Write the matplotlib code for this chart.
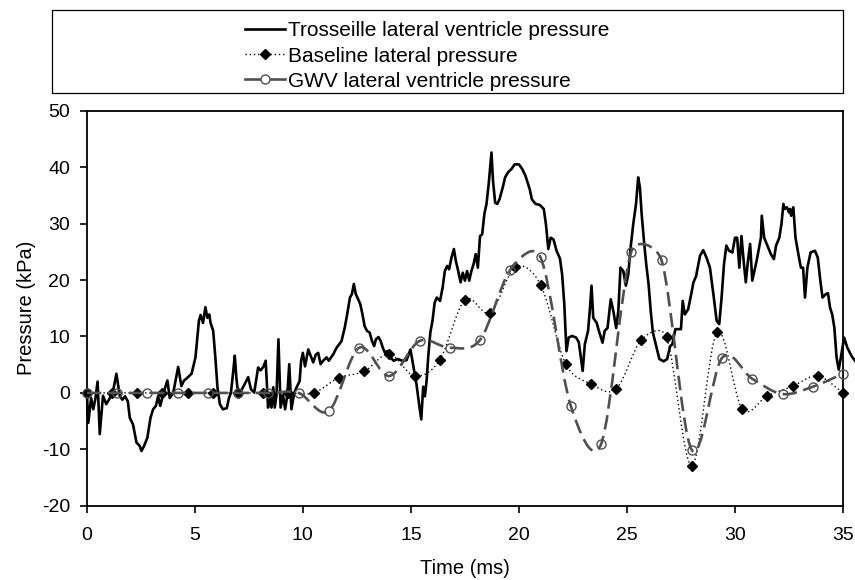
import matplotlib

matplotlib.use("Agg")
import matplotlib.pyplot as plt
import numpy as np
from matplotlib.lines import Line2D
from matplotlib.patches import PathPatch, Rectangle
from matplotlib.path import Path

plt.rcParams["font.family"] = ["Liberation Sans", "DejaVu Sans"]
plt.rcParams["axes.unicode_minus"] = False

# Trosseille: señal medida, densa
tro_time = [
    0.0, 0.07, 0.2, 0.3, 0.4, 0.5, 0.6, 0.75, 0.9, 1.07, 1.2, 1.37, 1.53, 1.65, 1.77,
    1.9, 1.99, 2.14, 2.3, 2.45, 2.53, 2.65, 2.8, 2.95, 3.07, 3.2, 3.3, 3.4, 3.55, 3.73,
    3.84, 4.0, 4.23, 4.38, 4.5, 4.6, 4.85, 5.03, 5.19, 5.27, 5.38, 5.49, 5.58, 5.67,
    5.73, 5.85, 5.95, 6.05, 6.16, 6.3, 6.48, 6.58, 6.67, 6.78, 6.85, 6.92, 7.0,
    7.15, 7.3, 7.47, 7.6, 7.75, 7.93, 8.04, 8.17, 8.28, 8.39, 8.47, 8.55, 8.63, 8.7,
    8.78, 8.87, 8.97, 9.08, 9.18, 9.28, 9.37, 9.47, 9.6, 9.7, 9.85, 9.92, 10.0, 10.1,
    10.25, 10.37, 10.48, 10.6, 10.71, 10.82, 10.94, 11.1, 11.2, 11.4, 11.56, 11.68,
    11.79, 11.94, 12.05, 12.18, 12.27, 12.36, 12.45, 12.56, 12.66, 12.76, 12.86, 12.97,
    13.09, 13.2, 13.3, 13.38, 13.5, 13.6, 13.7, 13.8, 13.9, 14.0,
    14.2, 14.4, 14.6, 14.8, 14.98, 15.1, 15.26, 15.39, 15.48, 15.57, 15.65, 15.73,
    15.8, 15.9, 16.0, 16.1, 16.2, 16.35, 16.47, 16.57, 16.68, 16.77, 16.88, 16.99,
    17.08, 17.19, 17.3, 17.4, 17.5, 17.6, 17.7, 17.8, 17.9, 18.0, 18.1, 18.2, 18.3,
    18.4, 18.5, 18.6, 18.73, 18.8, 18.9, 19.0, 19.1, 19.25, 19.36, 19.5, 19.66, 19.8,
    20.0, 20.15, 20.3, 20.5, 20.6, 20.77, 20.97, 21.15, 21.25, 21.36, 21.47, 21.6,
    21.74, 21.9, 22.0, 22.1, 22.2, 22.3, 22.46, 22.65, 22.77,
    22.95, 23.05, 23.2, 23.29, 23.36, 23.44, 23.6, 23.7, 23.87, 23.97, 24.1, 24.25,
    24.37, 24.5, 24.6, 24.7, 24.83, 24.95, 25.06, 25.17, 25.29, 25.42, 25.52, 25.6,
    25.68, 25.8, 25.9, 26.0, 26.1, 26.2, 26.37, 26.5, 26.7, 26.86, 27.0, 27.1, 27.24,
    27.5, 27.58, 27.68, 27.83,
    28.0, 28.07, 28.2, 28.38, 28.53, 28.68, 28.84, 29.0, 29.15, 29.27, 29.38, 29.49,
    29.6, 29.72, 29.88, 30.0, 30.1, 30.2, 30.3, 30.4, 30.5, 30.6, 30.7, 30.8, 31.0,
    31.2, 31.24, 31.35, 31.5, 31.66, 31.8, 31.9, 32.05, 32.15, 32.24, 32.3, 32.4, 32.5,
    32.55, 32.6, 32.7, 32.8, 32.96, 33.05, 33.15, 33.24, 33.35, 33.5, 33.7, 33.83,
    33.95, 34.05, 34.2, 34.3, 34.4, 34.5, 34.6, 34.7, 34.8, 34.9, 35.05, 35.2, 35.4,
    35.55,
]
tro_pressure = [
    0.3, -5.3, -0.9, -2.9, -1.0, 2.0, -7.3, -0.5, -2.0, -0.9, 0.0, 3.4, -0.6, -1.2, -0.6,
    -1.5, -4.4, -5.6, -8.8, -9.4, -10.3, -9.4, -8.0, -4.4, -2.9, -2.3, -0.6, -2.3, 0.0, 2.2,
    -0.9, 0.0, 4.6, 1.2, 2.2, 2.5, 3.4, 6.3, 12.8, 13.8, 12.4, 15.2, 13.3, 13.9,
    12.4, 11.0, 6.3, 0.9, -2.0, -2.9, -2.7, -0.9, 0.0, 3.9, 6.6, 2.8, 0.0,
    0.4, 1.5, 2.8, 0.6, 0.1, 4.5, 4.0, 4.6, 5.7, -2.6, 0.0, -2.6, 1.0, -2.6,
    -0.4, 9.5, -2.6, -0.4, -2.9, -0.4, 5.1, -2.9, 0.0, 0.9, 2.1, 5.7, 7.1, 4.7,
    7.7, 6.5, 5.4, 6.8, 7.1, 5.1, 5.7, 6.3, 5.7, 6.8, 8.0, 8.6,
    9.2, 11.6, 13.9, 16.9, 17.5, 19.3, 17.5, 16.6, 15.7, 13.9, 11.8, 11.0,
    10.7, 9.2, 8.3, 9.5, 9.9, 9.2, 8.0, 7.1, 7.4, 6.5,
    5.7, 6.0, 5.7, 5.8, 7.7, 5.0, 1.5, -2.3, -4.7, 1.1, -0.6, 2.3,
    6.3, 10.7, 12.8, 16.0, 16.9, 16.3, 18.7, 21.6, 22.5, 21.9, 24.0, 25.5,
    23.4, 21.6, 19.6, 21.3, 19.9, 21.6, 19.9, 21.6, 22.8, 24.6, 22.2, 27.8, 28.1,
    31.7, 33.5, 37.0, 42.6, 37.6, 33.7, 33.5, 34.3, 36.4, 38.2, 39.1, 39.7, 40.5,
    40.5, 39.7, 38.5, 36.1, 34.3, 33.5, 33.3, 32.6, 29.9, 25.5, 27.5, 27.2,
    25.2, 23.8, 21.0, 15.7, 7.4, 9.8, 10.1, 9.8, 9.0,
    3.9, 8.6, 11.0, 15.1, 19.0, 13.3, 12.4, 11.0, 8.9, 11.0, 11.5, 16.6,
    14.5, 11.5, 14.5, 22.2, 21.6, 19.0, 21.0, 25.8, 29.9, 33.5, 38.2, 36.4,
    31.7, 26.4, 22.5, 19.3, 14.5, 10.7, 8.0, 6.0, 5.6, 6.0, 8.3, 8.6, 11.3,
    11.3, 16.3, 13.9, 14.8,
    18.0, 19.5, 20.7, 24.3, 25.3, 24.0, 22.2, 17.5, 12.8, 12.2, 16.9, 22.8,
    26.1, 25.2, 24.9, 27.5, 27.5, 22.2, 27.8, 23.4, 19.6, 23.4, 26.4, 19.9, 23.4,
    27.5, 31.4, 27.5, 26.1, 24.6, 23.7, 26.1, 27.5, 29.9, 33.5, 32.6, 32.9, 32.0,
    32.6, 31.4, 32.9, 27.5, 24.0, 22.2, 22.2, 16.9, 22.2, 24.9, 25.2, 24.0,
    19.9, 16.9, 17.5, 17.7, 15.1, 13.9, 11.5, 6.3, 4.1, 6.3, 9.8, 8.0, 6.5,
    5.7,
]

# Baseline: cada ~1.17 ms
base_time = [
    0.0, 1.17, 2.33, 3.5, 4.67, 5.83, 7.0, 8.17, 9.33, 10.5, 11.67, 12.83, 14.0,
    15.17, 16.33, 17.5, 18.67, 19.83, 21.0, 22.17, 23.33, 24.5, 25.67, 26.83, 28.0,
    29.17, 30.33, 31.5, 32.67, 33.83, 35.0,
]
base_pressure = [
    0, 0, 0, 0, 0, 0, 0, 0, 0, 0, 2.7, 3.8, 6.9,
    3.0, 5.8, 16.5, 14.2, 22.3, 19.2, 5.1, 1.6, 0.7, 9.4, 9.9, -12.9,
    10.8, -2.8, -0.5, 1.2, 3.0, 0.0,
]

# GWV: cada 1.4 ms
gwv_time = [
    0.0, 1.4, 2.8, 4.2, 5.6, 7.0, 8.4, 9.8, 11.2, 12.6, 14.0, 15.4, 16.8, 18.2,
    19.6, 21.0, 22.4, 23.8, 25.2, 26.6, 28.0, 29.4, 30.8, 32.2, 33.6, 35.0,
]
gwv_pressure = [
    0, 0, 0, 0, 0, 0, 0, 0, -3.2, 8.0, 3.0, 9.2, 8.0, 9.4,
    21.8, 24.0, -2.3, -9.1, 25.0, 23.5, -10.1, 6.2, 2.5, -0.2, 1.1, 3.4,
]

labels = [
    "Trosseille lateral ventricle pressure",
    "Baseline lateral pressure",
    "GWV lateral ventricle pressure",
]

GWV_COLOR = "#505050"


def smooth_path(ax, xs, ys):
    """Línea suavizada tipo Excel: Bezier con tangente (p2-p0)/6 limitada a media cuerda.

    Se calcula en píxeles (transData) y se devuelve en coordenadas de datos.
    """
    pts = ax.transData.transform(np.column_stack([xs, ys]).astype(float))
    n = len(pts)
    verts = [pts[0]]
    codes = [Path.MOVETO]

    def offset(vec, chord):
        length = np.hypot(*vec)
        limit = chord / 2
        if length > limit and length > 0:
            vec = vec * limit / length
        return vec

    for i in range(n - 1):
        p0 = pts[max(i - 1, 0)]
        p1 = pts[i]
        p2 = pts[i + 1]
        p3 = pts[min(i + 2, n - 1)]
        chord = np.hypot(*(p2 - p1))
        c1 = p1 + offset((p2 - p0) / 6, chord)
        c2 = p2 - offset((p3 - p1) / 6, chord)
        verts += [c1, c2, p2]
        codes += [Path.CURVE4] * 3
    verts = ax.transData.inverted().transform(np.array(verts))
    return Path(verts, codes)


fig = plt.figure(figsize=(8.55, 5.80), dpi=100)
ax = fig.add_axes([0.1015, 0.128, 0.8845, 0.681])
ax.set_xlim(0, 35)
ax.set_ylim(-20, 50)

ax.plot(tro_time, tro_pressure, color="black", lw=1.9, zorder=3, clip_on=False)

ax.add_patch(PathPatch(smooth_path(ax, base_time, base_pressure), fill=False,
                       edgecolor="black", lw=1.0, linestyle=(0, (1, 2)), zorder=4))
ax.plot(base_time, base_pressure, linestyle="none", marker="D", markersize=5.5,
        color="black", zorder=5, clip_on=False)

ax.add_patch(PathPatch(smooth_path(ax, gwv_time, gwv_pressure), fill=False,
                       edgecolor=GWV_COLOR, lw=1.9, linestyle=(0, (5.5, 2.5)), zorder=6))
ax.plot(gwv_time, gwv_pressure, linestyle="none", marker="o", markersize=6.5,
        markerfacecolor="none", markeredgecolor=GWV_COLOR, markeredgewidth=1.0,
        zorder=7, clip_on=False)

ax.set_xticks(range(0, 36, 5))
ax.set_yticks(range(-20, 51, 10))
ax.tick_params(direction="out", length=5, width=1.2, labelsize=14, colors="black")
ax.tick_params(axis="x", pad=10)
ax.tick_params(axis="y", pad=7)
for spine in ax.spines.values():
    spine.set_linewidth(1.3)
    spine.set_color("black")
ax.set_xlabel("Time (ms)", fontsize=14.5, labelpad=11)
ax.set_ylabel("Pressure (kPa)", fontsize=14.5, labelpad=4)

# Leyenda: recuadro ancho y entradas centradas
fig.add_artist(Rectangle((0.0608, 0.840), 0.925, 0.143, transform=fig.transFigure,
                         fill=False, edgecolor="black", lw=0.9))
handles = [
    Line2D([], [], color="black", lw=1.9),
    Line2D([], [], color="black", lw=1.0, linestyle=(0, (1, 2)), marker="D",
           markersize=5.5),
    Line2D([], [], color=GWV_COLOR, lw=1.9, marker="o", markersize=6.5,
           markerfacecolor="white", markeredgecolor=GWV_COLOR, markeredgewidth=1.0),
]
fig.legend(handles, labels, loc="center", bbox_to_anchor=(0.4994, 0.9034),
           frameon=False, fontsize=15, handlelength=1.9, handletextpad=0.15,
           labelspacing=0.3, borderpad=0)

fig.savefig("out.png", dpi=100)
